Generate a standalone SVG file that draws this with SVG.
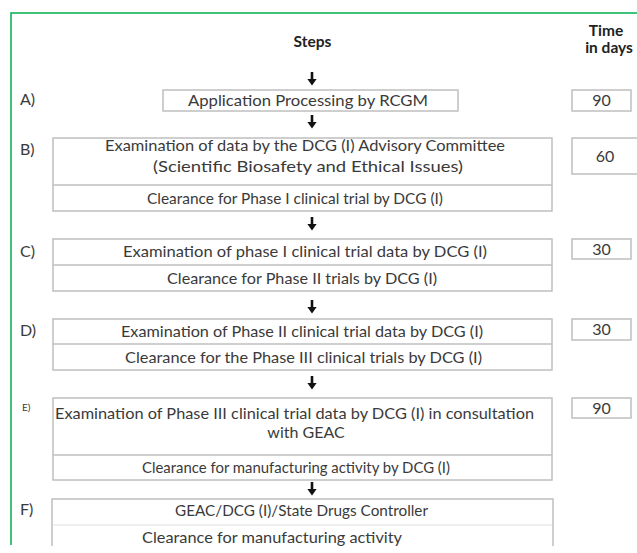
<svg xmlns="http://www.w3.org/2000/svg" width="637" height="553" viewBox="0 0 637 553">
<style>
text{font-family:Lato,"Liberation Sans",sans-serif;font-size:16px;fill:#3a3a3a}
.b{font-weight:bold;fill:#222;font-size:15.5px}
.m{text-anchor:middle}
.box{fill:#fff;stroke:#bfbfbf;stroke-width:1.5}
.div{stroke:#bfbfbf;stroke-width:1.5}
.ldiv{stroke:#e0e0e0;stroke-width:1.2}
.arr{stroke:#111;stroke-width:2.6}
</style>
<defs>
<marker id="ahd" viewBox="0 0 7 10" refX="0.5" refY="5" markerWidth="7" markerHeight="10" markerUnits="userSpaceOnUse" orient="auto">
<path d="M0,0 L7,5 L0,10 Z" fill="#111"/>
</marker>
<clipPath id="cut"><rect x="0" y="0" width="637" height="546"/></clipPath>
</defs>
<rect width="637" height="553" fill="#fff"/>
<path d="M11,545 V13 H637" fill="none" stroke="#00b050" stroke-width="1.5"/>

<g id="header">
<text class="b m" x="312.5" y="47">Steps</text>
<text class="b m" x="606" y="36">Time</text>
<text class="b m" x="609" y="53">in days</text>
</g>

<g id="connectors">
<line class="arr" x1="312" y1="72" x2="312" y2="79" marker-end="url(#ahd)"/>
<line class="arr" x1="312" y1="115" x2="312" y2="122" marker-end="url(#ahd)"/>
<line class="arr" x1="312" y1="217" x2="312" y2="224" marker-end="url(#ahd)"/>
<line class="arr" x1="312" y1="300" x2="312" y2="307" marker-end="url(#ahd)"/>
<line class="arr" x1="312" y1="376" x2="312" y2="383" marker-end="url(#ahd)"/>
<line class="arr" x1="312" y1="482" x2="312" y2="489" marker-end="url(#ahd)"/>
</g>

<g id="stepA">
<text x="20" y="105">A)</text>
<rect class="box" x="163" y="90" width="295" height="21"/>
<text x="188" y="106" textLength="240" lengthAdjust="spacingAndGlyphs">Application Processing by RCGM</text>
</g>
<g id="timeA">
<rect class="box" x="572" y="90" width="59" height="21"/>
<text class="m" x="601.5" y="106">90</text>
</g>

<g id="stepB">
<text x="20" y="155">B)</text>
<rect class="box" x="53" y="138" width="499" height="73"/>
<line class="div" x1="53" y1="185" x2="552" y2="185"/>
<text x="105" y="151" textLength="400" lengthAdjust="spacingAndGlyphs">Examination of data by the DCG (I) Advisory Committee</text>
<text x="153" y="172" textLength="310" lengthAdjust="spacingAndGlyphs">(Scientific Biosafety and Ethical Issues)</text>
<text x="147" y="204" textLength="296" lengthAdjust="spacingAndGlyphs">Clearance for Phase I clinical trial by DCG (I)</text>
</g>
<g id="timeB">
<rect class="box" x="572" y="138" width="66" height="36"/>
<text class="m" x="605" y="162">60</text>
</g>

<g id="stepC">
<text x="20" y="257">C)</text>
<rect class="box" x="53" y="239" width="499" height="52"/>
<line class="div" x1="53" y1="265" x2="552" y2="265"/>
<text x="123" y="257" textLength="364" lengthAdjust="spacingAndGlyphs">Examination of phase I clinical trial data by DCG (I)</text>
<text x="167" y="284" textLength="270" lengthAdjust="spacingAndGlyphs">Clearance for Phase II trials by DCG (I)</text>
</g>
<g id="timeC">
<rect class="box" x="572" y="239" width="59" height="20"/>
<text class="m" x="601.5" y="255">30</text>
</g>

<g id="stepD">
<text x="20" y="336">D)</text>
<rect class="box" x="53" y="319" width="499" height="51"/>
<line class="div" x1="53" y1="344" x2="552" y2="344"/>
<text x="121" y="337" textLength="362" lengthAdjust="spacingAndGlyphs">Examination of Phase II clinical trial data by DCG (I)</text>
<text x="125" y="363" textLength="357" lengthAdjust="spacingAndGlyphs">Clearance for the Phase III clinical trials by DCG (I)</text>
</g>
<g id="timeD">
<rect class="box" x="572" y="319" width="59" height="21"/>
<text class="m" x="601.5" y="335">30</text>
</g>

<g id="stepE">
<text x="22" y="411" style="font-size:10px">E)</text>
<rect class="box" x="53" y="398" width="499" height="82"/>
<line class="div" x1="53" y1="455" x2="552" y2="455"/>
<text x="55" y="419" textLength="479" lengthAdjust="spacingAndGlyphs">Examination of Phase III clinical trial data by DCG (I) in consultation</text>
<text class="m" x="306" y="438">with GEAC</text>
<text x="142" y="473" textLength="308" lengthAdjust="spacingAndGlyphs">Clearance for manufacturing activity by DCG (I)</text>
</g>
<g id="timeE">
<rect class="box" x="572" y="398" width="59" height="20"/>
<text class="m" x="601.5" y="414">90</text>
</g>

<g id="stepF" clip-path="url(#cut)">
<text x="20" y="515">F)</text>
<rect class="box" x="52" y="499" width="501" height="70"/>
<line class="ldiv" x1="53" y1="525" x2="552" y2="525"/>
<text x="175" y="516" textLength="253" lengthAdjust="spacingAndGlyphs">GEAC/DCG (I)/State Drugs Controller</text>
<text x="142" y="543" textLength="260" lengthAdjust="spacingAndGlyphs">Clearance for manufacturing activity</text>
</g>
</svg>
